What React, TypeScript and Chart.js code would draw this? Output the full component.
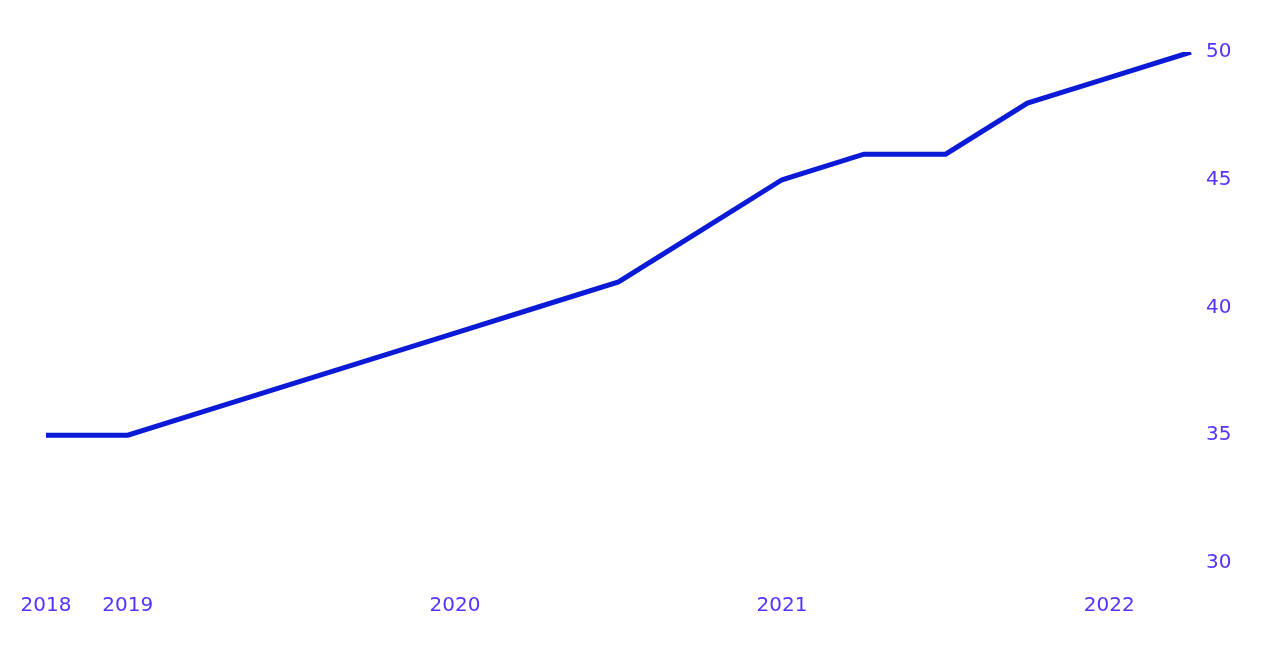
import React, { useEffect, useRef } from "react";
import { Chart, registerables } from "chart.js";

Chart.register(...registerables);

const quarters = [
  "2018 Q4", "2019 Q1", "2019 Q2", "2019 Q3", "2019 Q4",
  "2020 Q1", "2020 Q2", "2020 Q3", "2020 Q4",
  "2021 Q1", "2021 Q2", "2021 Q3", "2021 Q4",
  "2022 Q1", "2022 Q2",
];
const tickLabels = ["2018", "2019", "", "", "", "2020", "", "", "", "2021", "", "", "", "2022", ""];
const values = [35, 35, 36, 37, 38, 39, 40, 41, 43, 45, 46, 46, 48, 49, 50];

const LINE = "#0a1ad6";
const TEXT = "#5533ff";
const FONT = "'DejaVu Sans', sans-serif";

export default function App() {
  const ref = useRef<HTMLCanvasElement | null>(null);
  useEffect(() => {
    if (!ref.current) return;
    const chart = new Chart(ref.current, {
      type: "line",
      data: {
        labels: quarters,
        datasets: [
          {
            data: values,
            borderColor: LINE,
            borderWidth: 5,
            pointRadius: 0,
            tension: 0,
            fill: false,
          },
        ],
      },
      options: {
        animation: false,
        responsive: true,
        maintainAspectRatio: false,
        layout: { padding: { top: 44, left: 38, right: 0, bottom: 0 } },
        plugins: { legend: { display: false }, tooltip: { enabled: false } },
        scales: {
          x: {
            offset: false,
            grid: { display: false, drawTicks: false },
            border: { display: false },
            ticks: {
              autoSkip: false,
              maxRotation: 0,
              color: TEXT,
              font: { family: FONT, size: 20 },
              padding: 31,
              callback: (_v: any, i: number) => tickLabels[i],
            },
            afterFit: (s: any) => { s.height = 89; s.paddingLeft = 0; s.paddingRight = 0; },
          },
          y: {
            position: "right",
            min: 30,
            max: 50,
            grid: { display: false, drawTicks: false },
            border: { display: false },
            ticks: {
              stepSize: 5,
              color: TEXT,
              font: { family: FONT, size: 20 },
              padding: 15,
            },
            afterFit: (s: any) => { s.width = 87; s.paddingTop = 0; s.paddingBottom = 0; },
          },
        },
      },
    });
    return () => chart.destroy();
  }, []);
  return (
    <div style={{ width: 1270, height: 644, position: "relative" }}>
      <canvas ref={ref} />
    </div>
  );
}
